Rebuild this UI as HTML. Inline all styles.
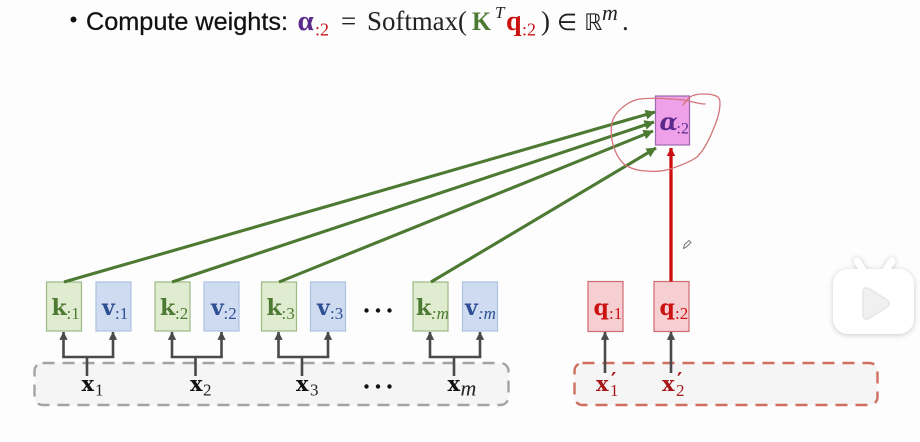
<!DOCTYPE html>
<html><head><meta charset="utf-8">
<style>
html,body{margin:0;padding:0;background:#fdfdfd;width:920px;height:442px;overflow:hidden}
svg{display:block;filter:blur(.35px)}
</style></head><body>
<svg width="920" height="442" viewBox="0 0 920 442" xmlns="http://www.w3.org/2000/svg">
<defs>
<marker id="ag" viewBox="0 0 10 10" refX="9.5" refY="5" markerWidth="3.8" markerHeight="3.2" orient="auto" markerUnits="strokeWidth"><path d="M0 0L10 5L0 10Z" fill="#4d7a33"/></marker>
<marker id="ak" viewBox="0 0 10 10" refX="9.5" refY="5" markerWidth="3.2" markerHeight="4.2" orient="auto" markerUnits="strokeWidth"><path d="M0 0L10 5L0 10Z" fill="#4a4a4a"/></marker>
<marker id="ar" viewBox="0 0 10 10" refX="9.5" refY="5" markerWidth="2.6" markerHeight="2.6" orient="auto" markerUnits="strokeWidth"><path d="M0 0L10 5L0 10Z" fill="#cc0f0f"/></marker>
<filter id="sh" x="-30%" y="-30%" width="160%" height="160%"><feGaussianBlur stdDeviation="3"/></filter>
</defs>

<!-- heading -->
<circle cx="73.5" cy="19.5" r="3" fill="#111"/>
<text x="86" y="30" style='font-family:"Liberation Sans",sans-serif;font-size:25px' stroke="#111" stroke-width=".25" fill="#111" textLength="202" lengthAdjust="spacingAndGlyphs">Compute weights:</text>
<g style='font-family:"Liberation Serif",serif'>
<text x="297.5" y="30" font-size="29" font-weight="bold" fill="#5b2a8c">α</text>
<text x="315" y="35.500" font-size="18" fill="#c01818">:2</text>
<text x="341" y="30" font-size="27" fill="#222">=</text>
<text x="367" y="30" font-size="27" fill="#222" textLength="100" lengthAdjust="spacingAndGlyphs">Softmax(</text>
<text x="472" y="30" font-size="26" font-weight="bold" fill="#4d7a33" textLength="19" lengthAdjust="spacingAndGlyphs">K</text>
<text x="495" y="18" font-size="17" font-style="italic" fill="#222">T</text>
<text x="506" y="30" font-size="28" font-weight="bold" fill="#cc1111">q</text>
<text x="522" y="35.500" font-size="18" fill="#cc1111">:2</text>
<text x="541" y="30" font-size="27" fill="#222">)</text>
<text x="602" y="20" font-size="22" font-style="italic" fill="#222">m</text>
<text x="622" y="30" font-size="27" fill="#222">.</text>
</g>
<text x="557" y="30" font-size="23" fill="#222" style='font-family:"DejaVu Sans",sans-serif'>∈</text>
<text x="584" y="30" font-size="23" fill="#222" style='font-family:"DejaVu Sans",sans-serif'>ℝ</text>

<!-- dashed groups -->
<rect x="34.5" y="363" width="474" height="42" rx="8" fill="#f5f5f5" stroke="#a3a3a3" stroke-width="2.4" stroke-dasharray="12 8"/>
<rect x="574.500" y="363" width="303" height="42" rx="8" fill="#f6f5f5" stroke="#cf6f60" stroke-width="2.4" stroke-dasharray="12 8"/>

<!-- boxes -->
<g stroke-width="1.2">
<g fill="#dfeccf" stroke="#9dba86">
<rect x="46.500" y="282" width="35" height="49"/><rect x="155" y="282" width="35" height="49"/><rect x="261.500" y="282" width="35" height="49"/><rect x="413" y="282" width="35" height="49"/>
</g>
<g fill="#cfdbf0" stroke="#adc1e2">
<rect x="96" y="282" width="35" height="49"/><rect x="204" y="282" width="35" height="49"/><rect x="310.500" y="282" width="35" height="49"/><rect x="462.500" y="282" width="35" height="49"/>
</g>
<g fill="#f6cfd2" stroke="#cf6b72">
<rect x="588" y="281.500" width="35" height="50"/><rect x="654" y="281.500" width="35" height="50"/>
</g>
<rect x="655.500" y="96" width="34" height="49" fill="#eea0e8" stroke="#9a68ad"/>
</g>

<!-- grey connectors -->
<g fill="none" stroke="#4a4a4a" stroke-width="2.6">
<path d="M63.500 357V332" marker-end="url(#ak)"/><path d="M113 357V332" marker-end="url(#ak)"/><path d="M62.200 357H114.300M87 357V376"/>
<path d="M172 357V332" marker-end="url(#ak)"/><path d="M221.500 357V332" marker-end="url(#ak)"/><path d="M170.700 357H222.800M195.500 357V376"/>
<path d="M278.500 357V332" marker-end="url(#ak)"/><path d="M328 357V332" marker-end="url(#ak)"/><path d="M277.200 357H329.300M302 357V376"/>
<path d="M430 357V332" marker-end="url(#ak)"/><path d="M480 357V332" marker-end="url(#ak)"/><path d="M428.700 357H481.300M454 357V376"/>
<path d="M605 373V332" marker-end="url(#ak)"/><path d="M671 373V332" marker-end="url(#ak)"/>
</g>

<!-- green arrows -->
<g fill="none" stroke="#4d7a33" stroke-width="3.1">
<path d="M64 282L655 112" marker-end="url(#ag)"/>
<path d="M172 282L654 122" marker-end="url(#ag)"/>
<path d="M279 282L653 131" marker-end="url(#ag)"/>
<path d="M431 282L656 148" marker-end="url(#ag)"/>
</g>
<!-- red arrow -->
<path d="M671 281.500V148" fill="none" stroke="#cc0f0f" stroke-width="3.300" marker-end="url(#ar)"/>

<!-- hand-drawn circle -->
<path d="M705 104C700 104 698 103 693 102C685 100 678 99 670 99C660 98 650 98 640 99C633 100 628 103 623 107C617 112 613 117 612 123C611 129 611 135 612 140C614 150 618 159 625 165C632 169 640 171 647 171C656 172 665 171 673 168C682 165 690 162 697 157C704 150 709 140 713 130C717 121 720 112 720 103C720 100 719 98 718 97C713 94 708 94 703 94C698 94 693 95 690 97C687 100 685 102 683 105" fill="none" stroke="#d27478" stroke-width="1.300" stroke-linecap="round"/>

<!-- labels in boxes -->
<g font-size="22" font-weight="bold" style='font-family:"DejaVu Serif",serif'>
<g fill="#4d7a33">
<text x="51.500" y="315">k</text><text x="160" y="315">k</text><text x="266.500" y="315">k</text><text x="416" y="315">k</text>
</g>
<g fill="#2e4f94">
<text x="102" y="315">v</text><text x="211" y="315">v</text><text x="317" y="315">v</text><text x="465" y="315">v</text>
</g>
<g fill="#cc1111">
<text x="593.500" y="315">q</text><text x="659.500" y="315">q</text>
</g>
</g>
<g font-size="17" style='font-family:"Liberation Serif",serif'>
<g fill="#4d7a33"><text x="66.500" y="319">:1</text><text x="175" y="319">:2</text><text x="281.500" y="319">:3</text><text x="431" y="319" font-style="italic">:m</text></g>
<g fill="#2e4f94"><text x="115" y="319">:1</text><text x="223.500" y="319">:2</text><text x="330" y="319">:3</text><text x="478" y="319" font-style="italic">:m</text></g>
<g fill="#cc1111"><text x="609" y="319">:1</text><text x="675" y="319">:2</text></g>
</g>
<text x="659.500" y="130" font-size="24" font-weight="bold" font-style="italic" fill="#5b2a8c" style='font-family:"DejaVu Serif",serif'>α</text>
<text x="676.500" y="133.500" font-size="16" fill="#5b2a8c" style='font-family:"Liberation Serif",serif'>:2</text>

<!-- ellipses -->
<g fill="#111">
<circle cx="366.500" cy="310.500" r="2.200"/><circle cx="378" cy="310.500" r="2.200"/><circle cx="389.500" cy="310.500" r="2.200"/>
<circle cx="366.500" cy="386.500" r="2.200"/><circle cx="378" cy="386.500" r="2.200"/><circle cx="389.500" cy="386.500" r="2.200"/>
</g>

<!-- x labels -->
<g font-size="21" font-weight="bold" fill="#111" style='font-family:"DejaVu Serif",serif'>
<text x="81.500" y="391">x</text><text x="190" y="391">x</text><text x="296" y="391">x</text><text x="447.500" y="391">x</text>
</g>
<g font-size="17" fill="#222" style='font-family:"Liberation Serif",serif'>
<text x="95" y="395.500">1</text><text x="203" y="395.500">2</text><text x="310" y="395.500">3</text>
<text x="460.500" y="395.500" font-style="italic" font-size="22">m</text>
</g>
<g font-size="21" font-weight="bold" fill="#a81818" style='font-family:"DejaVu Serif",serif'>
<text x="596" y="391">x</text><text x="662" y="391">x</text>
</g>
<g font-size="17" fill="#a81818" style='font-family:"Liberation Serif",serif'>
<text x="610" y="396">1</text><text x="676" y="396">2</text>
</g>
<g font-size="20" font-weight="bold" fill="#a81818" style='font-family:"DejaVu Sans",sans-serif'>
<text x="611" y="387">′</text><text x="677" y="387">′</text>
</g>

<!-- pencil cursor -->
<path d="M683.500 248.500L684.500 244.500L689 240.500L691 242.500L686.500 247Z" fill="#f4f4f4" stroke="#777" stroke-width="1"/>

<!-- player logo -->
<g filter="url(#sh)" opacity=".2">
<rect x="833" y="270" width="81" height="65" rx="15" fill="#000"/>
<path d="M857 261L865 273M892 261L884 273" stroke="#000" stroke-width="7" stroke-linecap="round"/>
</g>
<g stroke="#fff" stroke-width="7" stroke-linecap="round"><path d="M857 261L865 273"/><path d="M892 261L884 273"/></g>
<rect x="833" y="269" width="81" height="65" rx="15" fill="#fff"/>
<path d="M863 292C863 288 866 287 869 288.500L887 300C890 302 890 305 887 307L869 318.500C866 320 863 319 863 315Z" fill="#f0f0f0" stroke="#e6e6e6" stroke-width="1.500"/>
</svg>
</body></html>
